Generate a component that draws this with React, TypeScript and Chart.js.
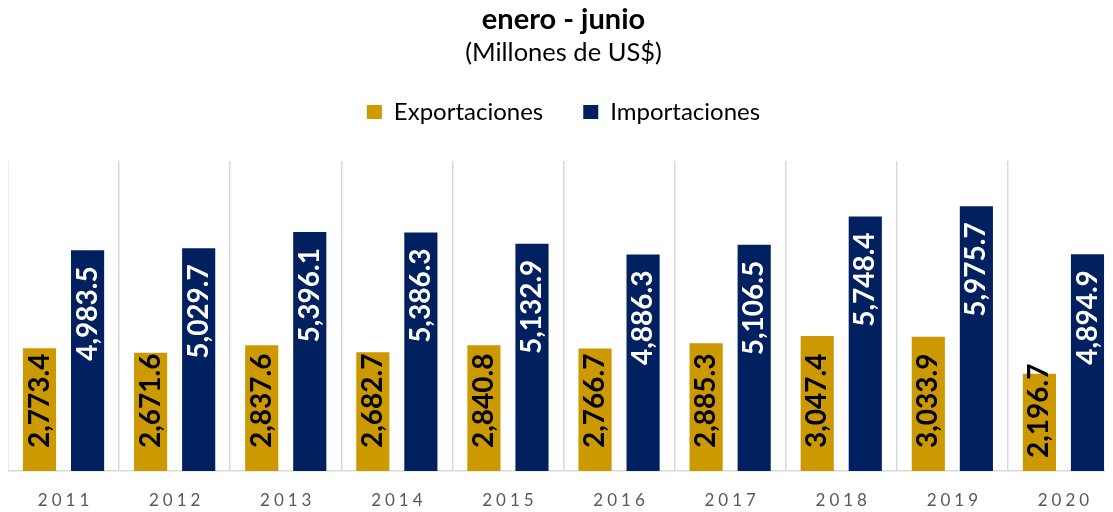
import React, { useEffect, useRef } from "react";
import { Chart, registerables } from "chart.js";

Chart.register(...registerables);

const categories = ["2011", "2012", "2013", "2014", "2015", "2016", "2017", "2018", "2019", "2020"];
const exportaciones = [2773.4, 2671.6, 2837.6, 2682.7, 2840.8, 2766.7, 2885.3, 3047.4, 3033.9, 2196.7];
const importaciones = [4983.5, 5029.7, 5396.1, 5386.3, 5132.9, 4886.3, 5106.5, 5748.4, 5975.7, 4894.9];
const seriesNames = ["Exportaciones", "Importaciones"];
const titleText = "enero - junio";
const subtitleText = "(Millones de US$)";

const GOLD = "#CC9900";
const NAVY = "#002060";
const FONT = "Lato";

const fmt = (v: number) =>
  v.toLocaleString("en-US", { minimumFractionDigits: 1, maximumFractionDigits: 1 });

const labelPlugin = {
  id: "barLabels",
  beforeInit(chart: any) {
    const legend = chart.legend;
    if (legend) {
      const origFit = legend.fit;
      legend.fit = function () {
        origFit.call(this);
        this.height += 27;
      };
    }
  },
  afterDatasetsDraw(chart: any) {
    const ctx = chart.ctx;
    chart.data.datasets.forEach((ds: any, di: number) => {
      const meta = chart.getDatasetMeta(di);
      meta.data.forEach((bar: any, i: number) => {
        const { x, y, base } = bar.getProps(["x", "y", "base"], true);
        const text = fmt(ds.data[i]);
        ctx.save();
        ctx.font = `bold 28px ${FONT}`;
        const len = ctx.measureText(text).width;
        ctx.textBaseline = "middle";
        if (di === 1) {
          ctx.fillStyle = "#FFFFFF";
          ctx.translate(x, y + 16);
          ctx.rotate(-Math.PI / 2);
          ctx.textAlign = "right";
          ctx.fillText(text, 0, 0);
        } else {
          const h = base - y;
          const off = len + 23 <= h + 6 ? 23 : 13;
          ctx.fillStyle = "#000000";
          ctx.translate(x, base - off);
          ctx.rotate(-Math.PI / 2);
          ctx.textAlign = "left";
          ctx.fillText(text, 0, 0);
        }
        ctx.restore();
      });
    });
  },
  afterDraw(chart: any) {
    const ctx = chart.ctx;
    const xs = chart.scales.x;
    const yc = chart.chartArea.bottom + 30;
    const spacing = 4;
    ctx.save();
    ctx.font = `17px ${FONT}`;
    ctx.fillStyle = "#595959";
    ctx.textBaseline = "middle";
    ctx.textAlign = "left";
    categories.forEach((c, i) => {
      const px = xs.getPixelForTick(i);
      (ctx as any).letterSpacing = "0px";
      let w = 0;
      const widths = c.split("").map((ch) => ctx.measureText(ch).width);
      widths.forEach((cw) => (w += cw));
      w += spacing * (c.length - 1);
      let cx = px - w / 2;
      c.split("").forEach((ch, k) => {
        ctx.fillText(ch, cx, yc);
        cx += widths[k] + spacing;
      });
    });
    ctx.restore();
  },
};

export default function App() {
  const ref = useRef<HTMLCanvasElement>(null);
  useEffect(() => {
    document.documentElement.style.overflow = "hidden";
    document.body.style.overflow = "hidden";
    const chart = new Chart(ref.current as HTMLCanvasElement, {
      type: "bar",
      data: {
        labels: categories,
        datasets: [
          {
            label: seriesNames[0],
            data: exportaciones,
            backgroundColor: GOLD,
            categoryPercentage: 0.865,
            barPercentage: 0.69,
          },
          {
            label: seriesNames[1],
            data: importaciones,
            backgroundColor: NAVY,
            categoryPercentage: 0.865,
            barPercentage: 0.69,
          },
        ],
      },
      options: {
        responsive: false,
        animation: false,
        layout: { padding: { left: 0, right: 2, top: 0, bottom: 41 } },
        plugins: {
          title: {
            display: true,
            text: titleText,
            color: "#000000",
            font: { family: FONT, size: 29, weight: "bold", lineHeight: 1 },
            padding: { top: -3, bottom: 0 },
          },
          subtitle: {
            display: true,
            text: subtitleText,
            color: "#000000",
            font: { family: FONT, size: 25.5, weight: "normal", lineHeight: 1 },
            padding: { top: 5.7, bottom: -5.2 },
          },
          legend: {
            display: true,
            position: "top",
            labels: {
              color: "#000000",
              font: { family: FONT, size: 24 },
              boxWidth: 15,
              boxHeight: 14,
              padding: 40,
            },
          },
          tooltip: { enabled: false },
        },
        scales: {
          x: {
            offset: true,
            grid: {
              display: true,
              offset: true,
              color: "#D9D9D9",
              lineWidth: 1.5,
              drawTicks: false,
            },
            border: { display: true, color: "#D9D9D9", width: 1.5 },
            ticks: { display: false },
          },
          y: {
            display: false,
            min: 0,
            max: 7000,
          },
        },
      },
      plugins: [labelPlugin],
    });
    return () => chart.destroy();
  }, []);
  return (
    <div style={{ width: 1113, height: 504, position: "relative" }}>
      <canvas ref={ref} width={1113} height={504} style={{ display: "block" }} />
    </div>
  );
}
